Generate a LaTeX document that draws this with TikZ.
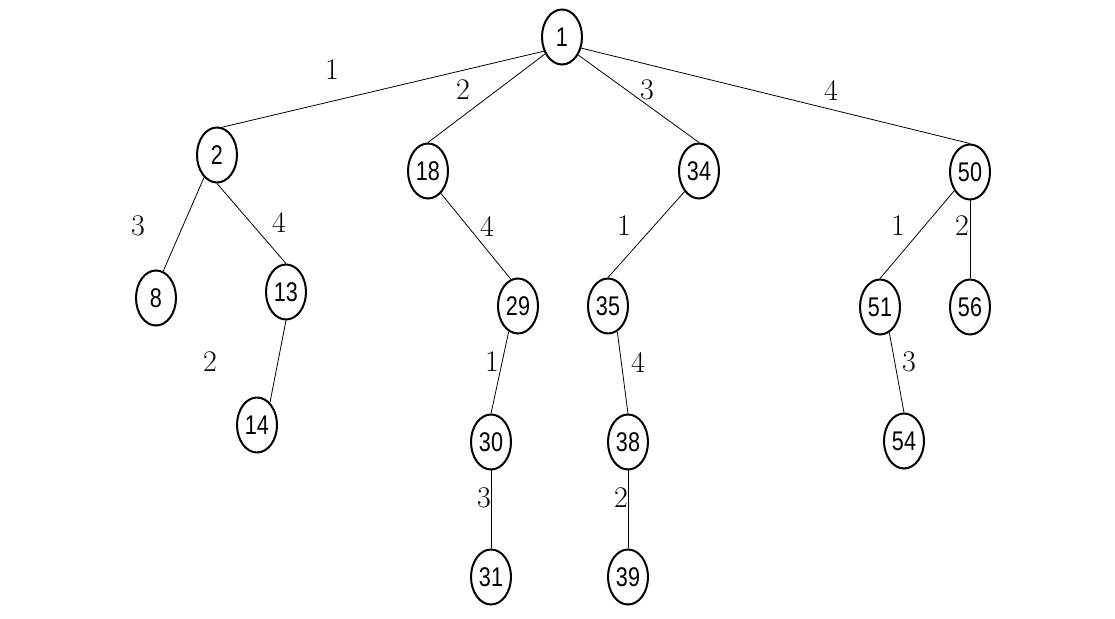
\documentclass[tikz,border=0pt]{standalone}
\usepackage{fontspec}
\usetikzlibrary{shapes.geometric}
\newfontfamily\numfont[FakeStretch=0.8]{Liberation Sans}
\tikzset{
  vertex/.style={draw, ellipse, line width=1pt, minimum width=20pt, minimum height=27.5pt,
    inner sep=0pt, font=\numfont\fontsize{13.5}{13.5}\selectfont},
  weight/.style={inner sep=0pt, font=\fontsize{15}{15}\selectfont},
  link/.style={line width=0.4pt}
}
\begin{document}
\begin{tikzpicture}[x=0.5pt,y=-0.5pt]
\useasboundingbox (0,0) rectangle (1115,619);
% vertices
\node[vertex] (n1) at (562,37) {1};
\node[vertex] (n2) at (217,155) {2};
\node[vertex] (n18) at (428,171) {18};
\node[vertex] (n34) at (699,171) {34};
\node[vertex] (n50) at (970,172) {50};
\node[vertex] (n8) at (156,298) {8};
\node[vertex] (n13) at (286,292) {13};
\node[vertex] (n29) at (518,306) {29};
\node[vertex] (n35) at (608,306) {35};
\node[vertex] (n51) at (880,307) {51};
\node[vertex] (n56) at (970,307) {56};
\node[vertex] (n14) at (257,425) {14};
\node[vertex] (n30) at (491,442) {30};
\node[vertex] (n38) at (628,442) {38};
\node[vertex] (n54) at (904,441) {54};
\node[vertex] (n31) at (491,577) {31};
\node[vertex] (n39) at (628,577) {39};
% edges
\draw[link] (n1.218) -- (n2.80);
\draw[link] (n1.225) -- (n18.north);
\draw[link] (n1.312) -- (n34.north);
\draw[link] (n1.330) -- (n50.north);
\draw[link] (n2.240) -- (n8.75);
\draw[link] (n2.south) -- (n13.north);
\draw[link] (n13.south) -- (n14.60);
\draw[link] (n18.300) -- (n29.105);
\draw[link] (n29.250) -- (n30.north);
\draw[link] (n30.south) -- (n31.north);
\draw[link] (n34.235) -- (n35.north);
\draw[link] (n35.290) -- (n38.north);
\draw[link] (n38.south) -- (n39.north);
\draw[link] (n50.230) -- (n51.north);
\draw[link] (n50.south) -- (n56.north);
\draw[link] (n51.290) -- (n54.north);
% weights
\node[weight] (w1-2) at (332,70) {1};
\node[weight] (w1-18) at (463,90) {2};
\node[weight] (w1-34) at (647,90) {3};
\node[weight] (w1-50) at (831,90) {4};
\node[weight] (w2-8) at (138,226) {3};
\node[weight] (w2-13) at (279,222) {4};
\node[weight] (w18-29) at (487,226) {4};
\node[weight] (w34-35) at (624,226) {1};
\node[weight] (w50-51) at (898,226) {1};
\node[weight] (w50-56) at (962,226) {2};
\node[weight] (w13-14) at (210,362) {2};
\node[weight] (w29-30) at (492,362) {1};
\node[weight] (w35-38) at (638,362) {4};
\node[weight] (w51-54) at (909,362) {3};
\node[weight] (w30-31) at (484,498) {3};
\node[weight] (w38-39) at (621,498) {2};
\end{tikzpicture}
\end{document}
